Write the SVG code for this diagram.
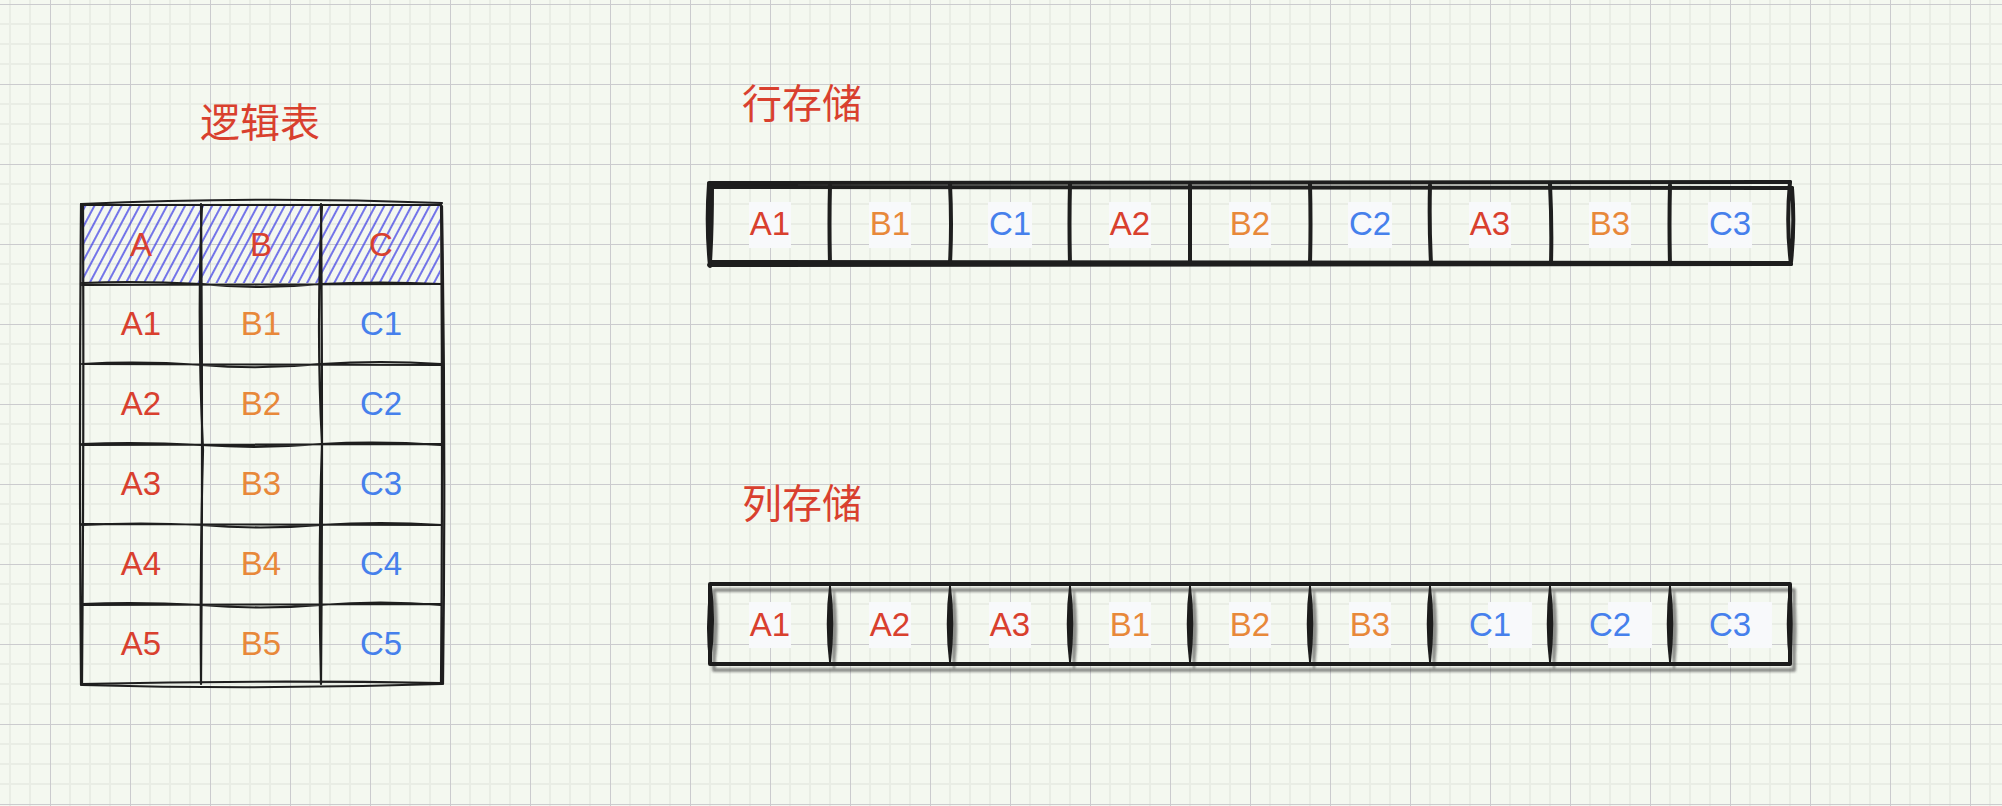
<svg xmlns="http://www.w3.org/2000/svg" width="2002" height="806" viewBox="0 0 2002 806">
<defs>
<style>
.t{font-family:"Liberation Sans",Arial,sans-serif;font-size:33px;text-anchor:middle}
.r{fill:#d9402e}.o{fill:#e8883a}.b{fill:#4680ec}
.title{font-family:"Noto Sans CJK SC","Noto Sans CJK JP",sans-serif;font-size:40px;fill:#d9402e}
.lb{fill:#f8f9fb}
.sk{fill:none;stroke:#1e1e1e;stroke-linecap:round;stroke-linejoin:round}
.lens{fill:#1e1e1e;stroke:#1e1e1e;stroke-width:1.5;stroke-linejoin:round}
</style>
<pattern id="grid" patternUnits="userSpaceOnUse" x="9" y="3" width="80" height="80">
<rect width="80" height="80" fill="#f4f8f0"/>
<g fill="#e9ede5">
<rect x="0" y="0" width="2" height="80"/><rect x="20" y="0" width="2" height="80"/><rect x="60" y="0" width="2" height="80"/>
<rect x="0" y="20" width="80" height="2"/><rect x="0" y="40" width="80" height="2"/><rect x="0" y="60" width="80" height="2"/>
</g>
<g fill="#cbcbce">
<rect x="41" y="0" width="1" height="80"/>
<rect x="0" y="1" width="80" height="1"/>
</g>
</pattern>
<pattern id="hatch" patternUnits="userSpaceOnUse" width="8" height="8" patternTransform="rotate(28)">
<line x1="4" y1="0" x2="4" y2="8" stroke="#3b3be6" stroke-width="1.4"/>
</pattern>
<filter id="sh" x="-5%" y="-20%" width="110%" height="150%">
<feDropShadow dx="4" dy="6" stdDeviation="1.3" flood-color="#3a3a3a" flood-opacity="0.55"/>
</filter>
</defs>

<rect width="2002" height="806" fill="url(#grid)"/>

<g id="connectors"/>

<g id="title-logical"><text class="title" x="260" y="137" text-anchor="middle">逻辑表</text></g>

<g id="logical-table">
<rect x="82" y="205" width="358" height="78" fill="url(#hatch)"/>
<g class="sk" stroke-width="2.2">
<path d="M81 204 Q260 196 442 203 M82 205 L441 205"/>
<path d="M81 204 Q79 444 81 685 M83 205 Q84 440 82 684"/>
<path d="M441 203 Q443 444 441 684 M442 206 Q446 450 443 684"/>
<path d="M81 684 Q260 680 441 683 M82 685 Q260 690 442 684"/>
<path d="M82 283 Q140 281 201 284 Q260 290 321 284 Q380 281 441 284 M82 285 L441 284"/>
<path d="M82 364 Q140 361 201 365 Q260 370 321 364 Q380 360 441 364 M82 364 L441 365"/>
<path d="M82 444 Q140 442 201 445 Q260 449 321 444 Q380 441 441 445 M82 445 L441 444"/>
<path d="M82 525 Q140 522 201 525 Q260 530 321 525 Q380 521 441 525 M82 524 L441 525"/>
<path d="M82 604 Q140 602 201 605 Q260 610 321 605 Q380 600 441 605 M82 605 L441 604"/>
<path d="M201 204 Q203 444 201 684 M202 205 Q197 320 203 450 Q200 560 201 684"/>
<path d="M321 204 Q323 444 321 684 M322 205 Q316 330 322 444 Q318 560 321 684"/>
</g>
<g class="t">
<text class="r" x="141" y="256">A</text><text class="r" x="261" y="256">B</text><text class="r" x="381" y="256">C</text>
<text class="r" x="141" y="335">A1</text><text class="o" x="261" y="335">B1</text><text class="b" x="381" y="335">C1</text>
<text class="r" x="141" y="415">A2</text><text class="o" x="261" y="415">B2</text><text class="b" x="381" y="415">C2</text>
<text class="r" x="141" y="495">A3</text><text class="o" x="261" y="495">B3</text><text class="b" x="381" y="495">C3</text>
<text class="r" x="141" y="575">A4</text><text class="o" x="261" y="575">B4</text><text class="b" x="381" y="575">C4</text>
<text class="r" x="141" y="655">A5</text><text class="o" x="261" y="655">B5</text><text class="b" x="381" y="655">C5</text>
</g>
</g>

<g id="title-row"><text class="title" x="742" y="118">行存储</text></g>

<g id="row-storage">
<g class="sk" stroke-width="4">
<path d="M709 183 L1790 182 M711 187 L1792 188"/>
<path d="M710 262 L1790 263 M709 265 L1791 264"/>
<path d="M709 184 Q706 225 710 266 M712 186 Q712 230 710 262"/>
<path d="M1790 182 Q1786 225 1791 264 M1792 188 Q1795 225 1791 262"/>
<path d="M830 185 Q829 225 830 263 M950 184 Q952 225 950 263 M1070 184 Q1069 225 1070 263 M1190 185 Q1190 225 1190 263 M1310 184 Q1311 225 1310 263 M1430 185 Q1429 225 1431 263 M1550 184 Q1552 225 1551 263 M1670 185 Q1669 225 1670 264"/>
</g>
<g class="lb">
<rect x="749" y="202" width="42" height="46"/><rect x="869" y="202" width="42" height="46"/><rect x="988" y="202" width="44" height="46"/>
<rect x="1109" y="202" width="42" height="46"/><rect x="1229" y="202" width="42" height="46"/><rect x="1348" y="202" width="44" height="46"/>
<rect x="1469" y="202" width="42" height="46"/><rect x="1589" y="202" width="42" height="46"/><rect x="1708" y="202" width="44" height="46"/>
</g>
<g class="t">
<text class="r" x="770" y="235">A1</text><text class="o" x="890" y="235">B1</text><text class="b" x="1010" y="235">C1</text>
<text class="r" x="1130" y="235">A2</text><text class="o" x="1250" y="235">B2</text><text class="b" x="1370" y="235">C2</text>
<text class="r" x="1490" y="235">A3</text><text class="o" x="1610" y="235">B3</text><text class="b" x="1730" y="235">C3</text>
</g>
</g>

<g id="title-col"><text class="title" x="742" y="518">列存储</text></g>

<g id="col-storage">
<g filter="url(#sh)">
<rect class="sk" x="710" y="584" width="1080" height="80" stroke-width="4"/>
<g>
<path class="lens" d="M711 584 Q705 624 710 664 Q716 624 711 584 Z"/>
<path class="lens" d="M830 584 Q825 624 830 664 Q835 624 830 584 Z"/>
<path class="lens" d="M950 584 Q945 624 950 664 Q955 624 950 584 Z"/>
<path class="lens" d="M1070 584 Q1065 624 1070 664 Q1075 624 1070 584 Z"/>
<path class="lens" d="M1190 584 Q1185 624 1190 664 Q1195 624 1190 584 Z"/>
<path class="lens" d="M1310 584 Q1305 624 1310 664 Q1315 624 1310 584 Z"/>
<path class="lens" d="M1430 584 Q1425 624 1430 664 Q1435 624 1430 584 Z"/>
<path class="lens" d="M1550 584 Q1545 624 1550 664 Q1555 624 1550 584 Z"/>
<path class="lens" d="M1670 584 Q1665 624 1670 664 Q1675 624 1670 584 Z"/>
<path class="lens" d="M1790 584 Q1785 624 1790 664 Q1794 624 1790 584 Z"/>
</g>
</g>
<g class="lb">
<rect x="749" y="602" width="42" height="46"/><rect x="869" y="602" width="42" height="46"/><rect x="989" y="602" width="42" height="46"/>
<rect x="1109" y="602" width="42" height="46"/><rect x="1229" y="602" width="42" height="46"/><rect x="1349" y="602" width="42" height="46"/>
<rect x="1488" y="602" width="44" height="46"/><rect x="1608" y="602" width="44" height="46"/><rect x="1728" y="602" width="44" height="46"/>
</g>
<g class="t">
<text class="r" x="770" y="636">A1</text><text class="r" x="890" y="636">A2</text><text class="r" x="1010" y="636">A3</text>
<text class="o" x="1130" y="636">B1</text><text class="o" x="1250" y="636">B2</text><text class="o" x="1370" y="636">B3</text>
<text class="b" x="1490" y="636">C1</text><text class="b" x="1610" y="636">C2</text><text class="b" x="1730" y="636">C3</text>
</g>
</g>
</svg>
